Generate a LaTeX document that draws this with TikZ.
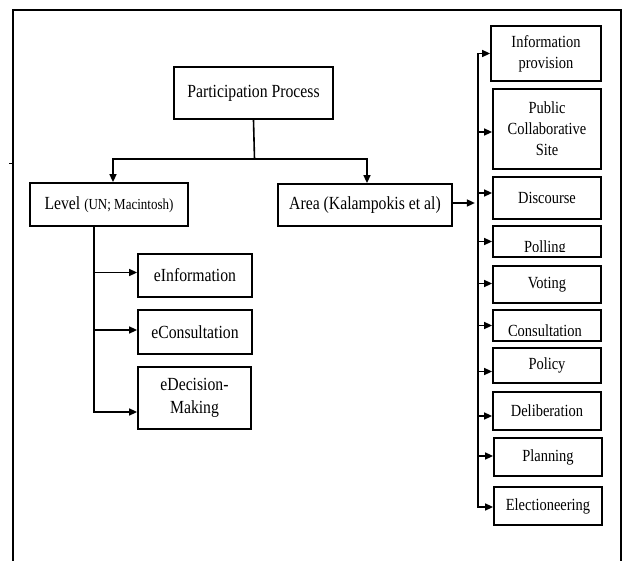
\documentclass[tikz,border=0pt]{standalone}
\usepackage{fontspec}
\setmainfont{Liberation Serif}[FakeStretch=0.85]
\usetikzlibrary{arrows.meta}
\newcommand\mfont{\fontsize{18.5}{23}\selectfont}
\newcommand\rfont{\fontsize{17}{21}\selectfont}
\newcommand\pfont{\fontsize{15.3}{18}\selectfont}
\begin{document}
\begin{tikzpicture}[x=1pt,y=-1pt,
  box/.style={draw, line width=1.8pt, inner sep=0pt, align=center},
  mbox/.style={box, font=\mfont},
  rbox/.style={box, font=\rfont, minimum width=108pt},
  conn/.style={line width=1.6pt},
  arr/.style={conn, -{Triangle[length=8pt,width=7pt]}},
  cliptext/.style={anchor=base, inner sep=0pt, font=\rfont}]
\useasboundingbox (0,0) rectangle (627,561);
% frame
\draw[line width=1.4pt] (13,561) -- (13,10);
\draw[line width=2pt] (12.3,10) -- (621.5,10);
\draw[line width=1.2pt] (621,10) -- (621,561);
\draw[line width=0.8pt] (9,163) -- (13,163);
% top level
\node[mbox, minimum width=159pt, minimum height=52pt] (pp) at (253.5,93) {Participation Process};
\node[mbox, minimum width=158pt, minimum height=43pt] (level) at (109,204.5) {Level {\pfont (UN; Macintosh)}};
\node[mbox, minimum width=174pt, minimum height=42pt] (area) at (365,205) {Area (Kalampokis et al)};
% level children
\node[mbox, minimum width=114pt, minimum height=43pt] (einfo) at (195,275.5) {eInformation};
\node[mbox, minimum width=114pt, minimum height=44pt] (econs) at (195,332) {eConsultation};
\node[mbox, minimum width=113pt, minimum height=62pt] (edec) at (194.5,398) {eDecision-\\Making};
% area children
\node[rbox, minimum width=110pt, minimum height=55pt] (info) at (546,53.5) {Information\\provision};
\node[rbox, minimum height=80pt] (pub) at (547,129) {Public\\Collaborative\\Site};
\node[rbox, minimum height=42pt] (disc) at (547,198) {Discourse};
\node[rbox, minimum height=31pt] (poll) at (547,241.5) {};
\node[rbox, minimum height=37pt] (vote) at (547,284.5) {Voting};
\node[rbox, minimum height=31pt] (cons) at (547,325.5) {};
\node[rbox, minimum height=35pt] (pol) at (547,365.5) {Policy};
\node[rbox, minimum height=38pt] (delib) at (547,411) {Deliberation};
\node[rbox, minimum height=38pt] (plan) at (548,457) {Planning};
\node[rbox, minimum height=38pt] (elect) at (548,506) {Electioneering};
% clipped labels
\begin{scope}
  \clip (492,226) rectangle (602,252);
  \node[cliptext] (pollt) at (545,253) {Polling};
\end{scope}
\begin{scope}
  \clip (492,310) rectangle (602,336);
  \node[cliptext] (const) at (545,337) {Consultation};
\end{scope}
% connectors top
\coordinate (split) at (254.5,159);
\draw[conn] (pp.south) -- (split);
\draw[arr] (split) -| ([xshift=4pt]level.north);
\draw[arr] (split) -| ([xshift=2pt]area.north);
% level bus
\coordinate (lb) at ([xshift=-15pt]level.south);
\draw[arr] (lb) |- ([yshift=-14pt]edec.west);
\draw[arr] ([yshift=3pt]einfo.west -| lb) -- ([yshift=3pt]einfo.west);
\draw[arr] ([yshift=2pt]econs.west -| lb) -- ([yshift=2pt]econs.west);
% area arrow
\coordinate (atip) at ([xshift=22pt,yshift=2pt]area.east);
\draw[arr] ([yshift=2pt]area.east) -- (atip);
% right bus
\coordinate (rb) at ([xshift=-12pt]info.west);
\draw[arr] (rb) |- ([yshift=-1pt]elect.west);
\draw[arr] (rb) -- (info.west);
\draw[arr] ([yshift=-3pt]pub.west -| rb) -- ([yshift=-3pt]pub.west);
\draw[arr] ([yshift=5pt]disc.west -| rb) -- ([yshift=5pt]disc.west);
\draw[arr] (poll.west -| rb) -- (poll.west);
\draw[arr] ([yshift=1pt]vote.west -| rb) -- ([yshift=1pt]vote.west);
\draw[arr] (cons.west -| rb) -- (cons.west);
\draw[arr] ([yshift=-6pt]pol.west -| rb) -- ([yshift=-6pt]pol.west);
\draw[arr] ([yshift=-5pt]delib.west -| rb) -- ([yshift=-5pt]delib.west);
\draw[arr] ([yshift=1pt]plan.west -| rb) -- ([yshift=1pt]plan.west);
\end{tikzpicture}
\end{document}
